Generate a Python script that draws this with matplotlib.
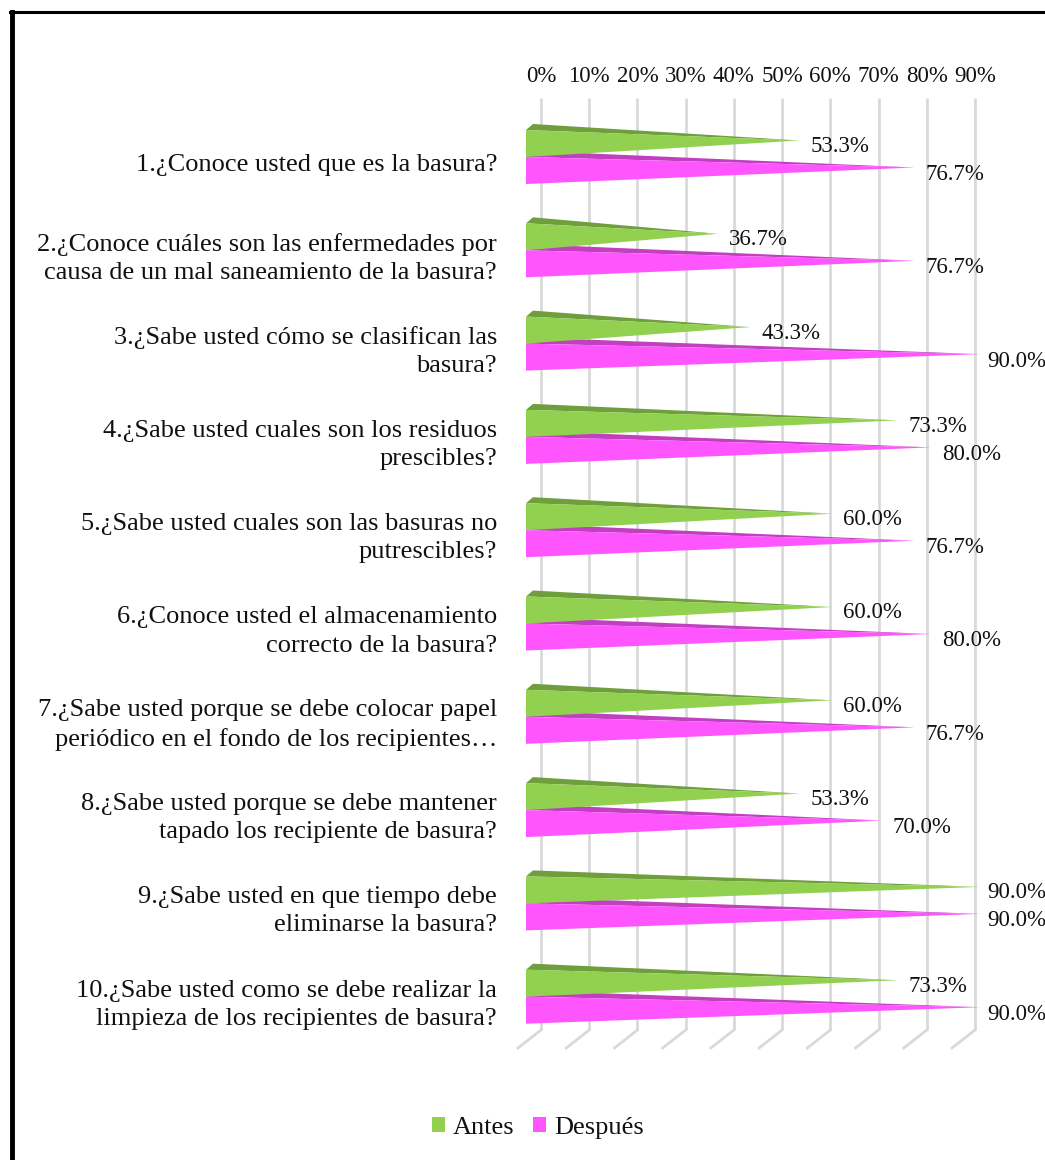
import matplotlib
matplotlib.use("Agg")
import matplotlib.pyplot as plt
from matplotlib.patches import Polygon, Rectangle
from matplotlib.lines import Line2D

plt.rcParams['font.family'] = ['Liberation Serif', 'DejaVu Serif']

categories = [
    "1.¿Conoce usted que es la basura?",
    "2.¿Conoce cuáles son las enfermedades por\ncausa de un mal saneamiento de la basura?",
    "3.¿Sabe usted cómo se clasifican las\nbasura?",
    "4.¿Sabe usted cuales son los residuos\nprescibles?",
    "5.¿Sabe usted cuales son las basuras no\nputrescibles?",
    "6.¿Conoce usted el almacenamiento\ncorrecto de la basura?",
    "7.¿Sabe usted porque se debe colocar papel\nperiódico en el fondo de los recipientes…",
    "8.¿Sabe usted porque se debe mantener\ntapado los recipiente de basura?",
    "9.¿Sabe usted en que tiempo debe\neliminarse la basura?",
    "10.¿Sabe usted como se debe realizar la\nlimpieza de los recipientes de basura?",
]
antes = [53.3, 36.7, 43.3, 73.3, 60.0, 60.0, 60.0, 53.3, 90.0, 73.3]
despues = [76.7, 76.7, 90.0, 80.0, 76.7, 80.0, 76.7, 70.0, 90.0, 90.0]
ticks = [0, 10, 20, 30, 40, 50, 60, 70, 80, 90]
series_names = ["Antes", "Después"]

green_front, green_top = "#92d050", "#6f9e3c"
pink_front, pink_top = "#ff55ff", "#c040c0"
text_color = "#111111"

W, H = 1045, 1160
fig = plt.figure(figsize=(W / 100, H / 100), dpi=100)
fig.patch.set_facecolor("white")

# axes: value 0 at px 537 (apex depth), 90 at px 980 ; y spans px 98..1030
x0, x1 = 537, 980
ytop, ybot = 98, 1030
ax = fig.add_axes([x0 / W, 1 - ybot / H, (x1 - x0) / W, (ybot - ytop) / H])
cat_px = 93.3
c0 = 157
ymin = (ytop - c0) / cat_px
ymax = (ybot - c0) / cat_px
ax.set_xlim(0, 90)
ax.set_ylim(ymax, ymin)
ax.axis("off")

pxx = 90 / (x1 - x0)   # data per px in x
pxy = 1 / cat_px       # data per px in y

def grid_x(t):
    # back wall: 0% at px 541, 90% at px 975
    return (4 + t * 434 / 90) * pxx

# back-wall gridlines + floor lines
for t in ticks:
    gx = grid_x(t)
    ax.plot([gx, gx], [ymin, ymax], color="#d9d9d9", lw=2, solid_capstyle="butt", zorder=1)
    ax.plot([gx, gx - 23 * pxx], [ymax, ymax + 18 * pxy], color="#d9d9d9", lw=2,
            clip_on=False, zorder=1)

half = 27 * pxy
base_x = -11 * pxx
dxb = 7 * pxx
dyb = 6 * pxy
apex_off = 3 * pxy
label_max_x = (987 - x0) * pxx

def pyramid(v, top, bottom, fc_front, fc_top):
    apex_y = (top + bottom) / 2 - apex_off
    topface = Polygon([(base_x, top), (base_x + dxb, top - dyb), (v, apex_y)], closed=True,
                      facecolor=fc_top, edgecolor="none", zorder=2, clip_on=False)
    front = Polygon([(base_x, top), (base_x, bottom), (v, apex_y)], closed=True,
                    facecolor=fc_front, edgecolor="none", zorder=3, clip_on=False)
    return topface, front, apex_y

for i, (a, d) in enumerate(zip(antes, despues)):
    gt, gf, gy = pyramid(a, i - half, i, green_front, green_top)
    pt, pf, py = pyramid(d, i, i + half, pink_front, pink_top)
    ax.add_patch(pt)
    ax.add_patch(gt)
    ax.add_patch(gf)
    ax.add_patch(pf)
    ax.text(min(a + 11 * pxx, label_max_x), gy + 6 * pxy, f"{a:.1f}%", fontsize=16.5,
            ha="left", va="center", color=text_color, clip_on=False, zorder=5)
    ax.text(min(d + 11 * pxx, label_max_x), py + 7 * pxy, f"{d:.1f}%", fontsize=16.5,
            ha="left", va="center", color=text_color, clip_on=False, zorder=5)
    ax.text(-40 * pxx, i + 8 * pxy, categories[i], fontsize=19, ha="right", va="center",
            linespacing=1.36, color=text_color, clip_on=False)

# top tick labels
for t in ticks:
    ax.text(grid_x(t), ymin - 22 * pxy, f"{t}%", fontsize=16.5, ha="center", va="center",
            color=text_color, clip_on=False)

# legend
handles = [Rectangle((0, 0), 1, 1, facecolor=green_front, edgecolor="none"),
           Rectangle((0, 0), 1, 1, facecolor=pink_front, edgecolor="none")]
leg = fig.legend(handles, series_names, loc="center", bbox_to_anchor=(538 / W, 1 - 1128 / H),
                 ncol=2, frameon=False, fontsize=19, handlelength=0.5, handleheight=0.5,
                 handletextpad=0.3, columnspacing=0.7)
for txt in leg.get_texts():
    txt.set_color(text_color)

# chart border (left and top visible)
fig.add_artist(Line2D([12 / W, 12 / W], [0, 1 - 12 / H], color="black", lw=3.5,
                      transform=fig.transFigure))
fig.add_artist(Line2D([10 / W, 1], [1 - 12 / H, 1 - 12 / H], color="black", lw=2.2,
                      transform=fig.transFigure))

fig.savefig("out.png", dpi=100, facecolor="white")
